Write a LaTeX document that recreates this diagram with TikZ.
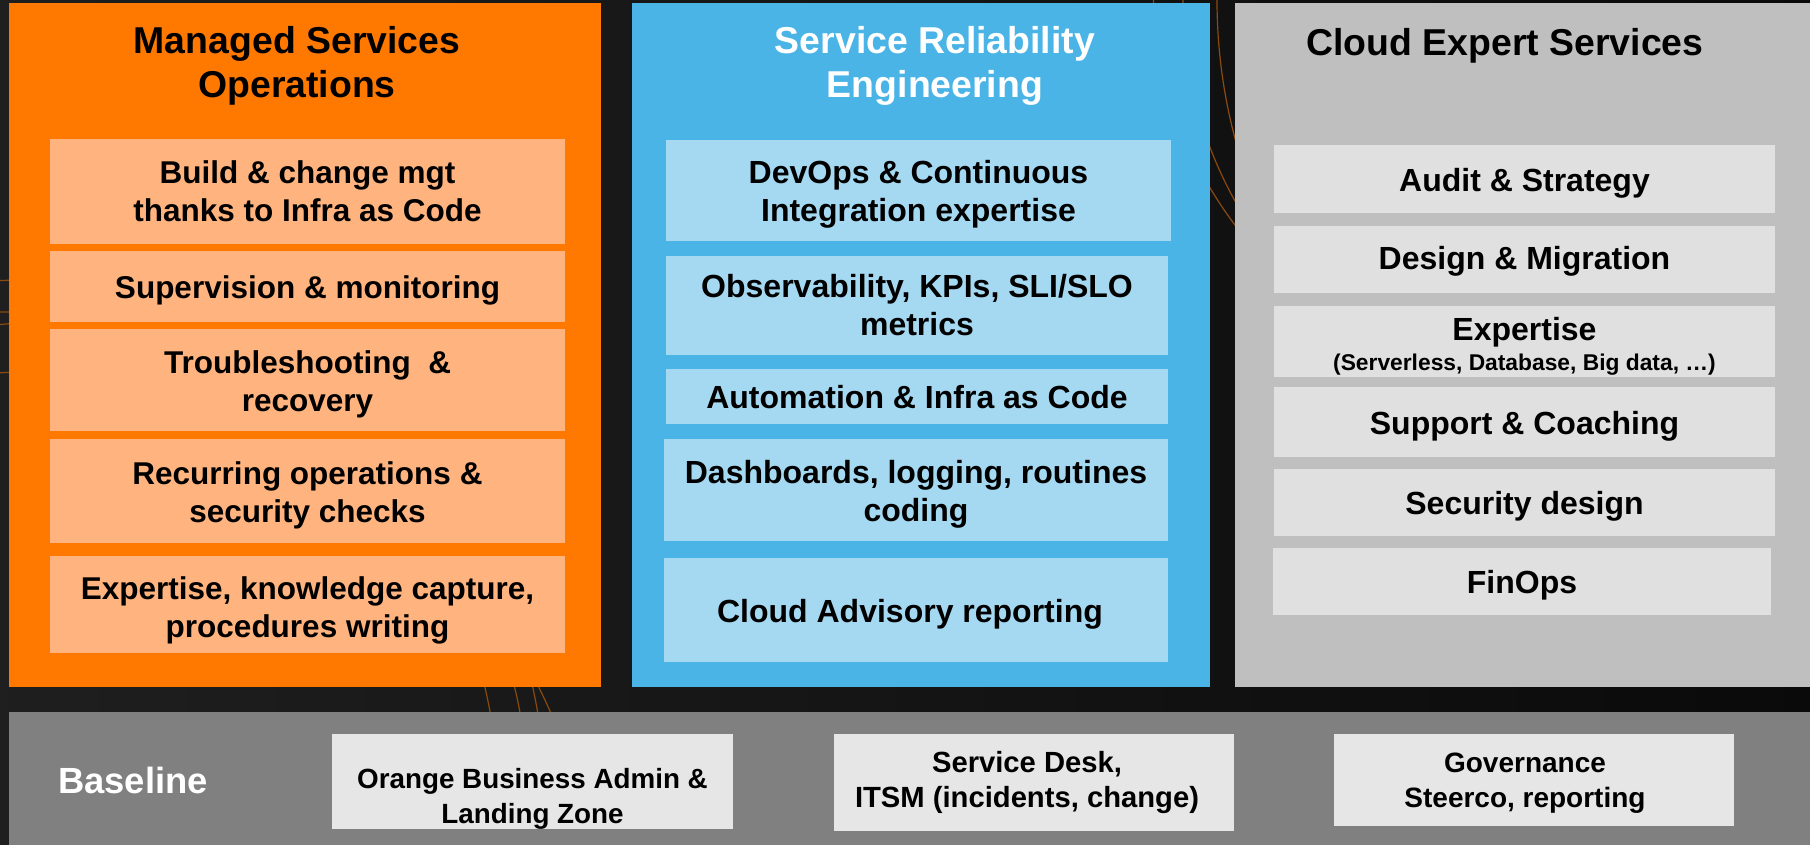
\documentclass[tikz,border=0pt]{standalone}
\usepackage{fontspec}
\setmainfont{Liberation Sans}
\definecolor{bgdark}{HTML}{161616}
\definecolor{oorange}{HTML}{FF7900}
\definecolor{lorange}{HTML}{FFB47F}
\definecolor{oblue}{HTML}{4BB4E6}
\definecolor{lblue}{HTML}{A5D9F2}
\definecolor{gpanel}{HTML}{BFBFBF}
\definecolor{gbox}{HTML}{E0E0E0}
\definecolor{band}{HTML}{808080}
\definecolor{bandbox}{HTML}{E6E6E6}
\definecolor{arcc}{HTML}{8A4A10}
% [text shift down in px]{name}{box style}{text style}{x1}{y1}{x2}{y2}{text}
\newcommand\mybox[9][4]{%
  \node[#3, minimum width={(#7-#5)*0.5pt}, minimum height={(#8-#6)*0.5pt}] (#2) at ({(#5+#7)/2},{(#6+#8)/2}) {};
  \node[#4, yshift={-#1*0.5pt}] (#2-t) at (#2.center) {#9};}
\tikzset{
  base/.style={draw=none, inner sep=0pt, outer sep=0pt, rectangle, align=center, text=black},
  opanel/.style={base, fill=oorange},
  bpanel/.style={base, fill=oblue},
  gpanelst/.style={base, fill=gpanel},
  bandst/.style={base, fill=band},
  itemtext/.style={base, font=\fontsize{16}{19}\selectfont\bfseries},
  oitemtext/.style={base, font=\fontsize{15.75}{19}\selectfont\bfseries},
  ltext/.style={base, font=\fontsize{14.6}{17.5}\selectfont\bfseries},
  obox/.style={base, fill=lorange},
  bbox/.style={base, fill=lblue},
  gboxst/.style={base, fill=gbox},
  lbox/.style={base, fill=bandbox},
  titlest/.style={base, font=\fontsize{18.7}{22}\selectfont\bfseries},
  arcline/.style={draw=arcc, line width=0.6pt}
}
\begin{document}
\begin{tikzpicture}[x=0.5pt,y=-0.5pt]
\useasboundingbox (0,0) rectangle (1810,845);
\shade[left color=black!88, right color=black!96] (0,0) rectangle (1810,845);
% decorative arcs
\begin{scope}
\clip (0,0) rectangle (1810,845);
\draw[arcline] (25,800) circle [radius=520];
\draw[arcline] (10,800) circle [radius=488];
\draw[arcline] (50,800) circle [radius=478];
\draw[arcline] (30,940) circle [radius=568];
\draw[arcline] (1755,0) circle [radius=538];
\draw[arcline] (1597,0) circle [radius=414];
\draw[arcline] (1560,-20) circle [radius=407];
\end{scope}
% panels
\mybox{op}{opanel}{base}{9}{3}{601}{687}{}
\mybox{bp}{bpanel}{base}{632}{3}{1210}{687}{}
\mybox{gp}{gpanelst}{base}{1235}{3}{1812}{687}{}
\mybox{bd}{bandst}{base}{9}{712}{1812}{845}{}
% titles
\node[titlest] (ot) at (297,66) {Managed Services\\Operations};
\node[titlest, text=white] (bt) at (935,66) {Service Reliability\\Engineering};
\node[titlest] (gt) at (1505,46) {Cloud Expert Services};
% orange items
\mybox[0]{o1}{obox}{oitemtext}{50}{139}{565}{244}{Build \& change mgt\\thanks to Infra as Code}
\mybox{o2}{obox}{oitemtext}{50}{251}{565}{322}{Supervision \& monitoring}
\mybox{o3}{obox}{oitemtext}{50}{329}{565}{431}{Troubleshooting\ \ \&\\recovery}
\mybox{o4}{obox}{oitemtext}{50}{439}{565}{543}{Recurring operations \&\\security checks}
\mybox[6]{o5}{obox}{oitemtext}{50}{556}{565}{653}{Expertise, knowledge capture,\\procedures writing}
% blue items
\mybox{b1}{bbox}{itemtext}{666}{140}{1171}{241}{DevOps \& Continuous\\Integration expertise}
\mybox[0]{b2}{bbox}{itemtext}{666}{256}{1168}{355}{Observability, KPIs, SLI/SLO\\metrics}
\mybox[1]{b3}{bbox}{itemtext}{666}{369}{1168}{424}{Automation \& Infra as Code}
\mybox{b4}{bbox}{itemtext}{664}{439}{1168}{541}{Dashboards, logging, routines\\coding}
\mybox{b5}{bbox}{itemtext, xshift=-3pt}{664}{558}{1168}{662}{Cloud Advisory reporting}
% gray items
\mybox{g1}{gboxst}{itemtext}{1274}{145}{1775}{213}{Audit \& Strategy}
\mybox[2]{g2}{gboxst}{itemtext}{1274}{226}{1775}{293}{Design \& Migration}
\mybox[5]{g3}{gboxst}{itemtext}{1274}{306}{1775}{377}{Expertise\\[-4pt]{\fontsize{11.4}{13}\selectfont (Serverless, Database, Big data, …)}}
\mybox{g4}{gboxst}{itemtext}{1274}{387}{1775}{457}{Support \& Coaching}
\mybox{g5}{gboxst}{itemtext}{1274}{469}{1775}{536}{Security design}
\mybox{g6}{gboxst}{itemtext}{1273}{548}{1771}{615}{FinOps}
% baseline
\node[base, text=white, font=\fontsize{18.2}{22}\selectfont\bfseries] (bl) at (133,780) {Baseline};
\mybox[17]{l1}{lbox}{ltext, font=\fontsize{13.9}{17.5}\selectfont\bfseries}{332}{734}{733}{829}{Orange Business Admin \&\\Landing Zone}
\mybox[0]{l2}{lbox}{ltext, xshift=-3.5pt}{834}{734}{1234}{831}{Service Desk,\\ITSM (incidents, change)}
\mybox[3]{l3}{lbox}{ltext, xshift=-4.5pt, font=\fontsize{14}{17.5}\selectfont\bfseries}{1334}{734}{1734}{826}{Governance\\Steerco, reporting}
\end{tikzpicture}
\end{document}
